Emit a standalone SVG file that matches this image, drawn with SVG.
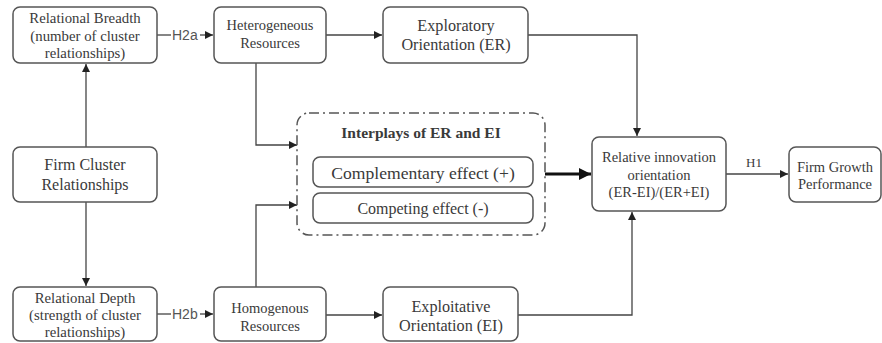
<svg xmlns="http://www.w3.org/2000/svg" width="882" height="343" viewBox="0 0 882 343">
<style>
.box{fill:#fff;stroke:#555;stroke-width:1.5}
.t{font-family:"Liberation Serif","Times New Roman",serif;fill:#3a3a3a;text-anchor:middle}
.s13{font-size:14.8px}.s14{font-size:14.5px}.s15{font-size:16.2px}.s16{font-size:16px}
.lbl{font-family:"Liberation Sans",sans-serif;font-size:14px;fill:#555}
.c{fill:none;stroke:#444;stroke-width:1.3}
</style>
<defs>
<marker id="a" viewBox="0 0 10 10" refX="10" refY="5" markerWidth="8" markerHeight="8" markerUnits="userSpaceOnUse" orient="auto"><path d="M0,0L10,5L0,10z" fill="#222"/></marker>
<marker id="b" viewBox="0 0 10 10" refX="10" refY="5" markerWidth="12" markerHeight="12" markerUnits="userSpaceOnUse" orient="auto"><path d="M0,0L10,5L0,10z" fill="#111"/></marker>
</defs>
<rect width="882" height="343" fill="#fff"/>
<g id="connectors">
<path class="c" d="M86,147V64" marker-end="url(#a)"/>
<path class="c" d="M86,202V286" marker-end="url(#a)"/>
<path class="c" d="M157,35H171"/><path class="c" d="M200,35H213" marker-end="url(#a)"/>
<text class="lbl" x="172" y="40">H2a</text>
<path class="c" d="M157,314H171"/><path class="c" d="M200,314H213" marker-end="url(#a)"/>
<text class="lbl" x="172" y="319">H2b</text>
<path class="c" d="M326,35H382" marker-end="url(#a)"/>
<path class="c" d="M326,315H382" marker-end="url(#a)"/>
<path class="c" d="M256,63V145H297" marker-end="url(#a)"/>
<path class="c" d="M256,287V205H297" marker-end="url(#a)"/>
<path class="c" d="M528,35H637V136" marker-end="url(#a)"/>
<path class="c" d="M518,315H632V212" marker-end="url(#a)"/>
<path fill="none" stroke="#111" stroke-width="3" d="M545,174H591" marker-end="url(#b)"/>
<path class="c" d="M726,174H788" marker-end="url(#a)"/>
<text class="t" font-size="13" x="754" y="167">H1</text>
</g>
<g id="breadth"><rect class="box" x="13" y="7" width="144" height="56" rx="7"/>
<text class="t s13"><tspan x="85" y="23">Relational Breadth</tspan><tspan x="85" y="41">(number of cluster</tspan><tspan x="85" y="58">relationships)</tspan></text></g>
<g id="heterogeneous"><rect class="box" x="214" y="7" width="112" height="56" rx="7"/>
<text class="t s14"><tspan x="270" y="30">Heterogeneous</tspan><tspan x="270" y="48">Resources</tspan></text></g>
<g id="exploratory"><rect class="box" x="383" y="7" width="145" height="56" rx="7"/>
<text class="t s15"><tspan x="456" y="31">Exploratory</tspan><tspan x="456" y="50">Orientation (ER)</tspan></text></g>
<g id="cluster"><rect class="box" x="13" y="147" width="144" height="55" rx="7"/>
<text class="t s16"><tspan x="85" y="170">Firm Cluster</tspan><tspan x="85" y="190">Relationships</tspan></text></g>
<g id="interplays"><rect x="297" y="113" width="248" height="122" rx="12" fill="none" stroke="#555" stroke-width="1.5" stroke-dasharray="10,4,2,4"/>
<text class="t" font-size="15.5" x="421" y="138" font-weight="bold">Interplays of ER and EI</text>
<rect class="box" x="313" y="157" width="220" height="30" rx="7"/>
<text class="t" font-size="17.6" x="423" y="179">Complementary effect (+)</text>
<rect class="box" x="313" y="193" width="220" height="30" rx="7"/>
<text class="t" font-size="16" x="423" y="214">Competing effect (-)</text></g>
<g id="relative"><rect class="box" x="592" y="137" width="134" height="74" rx="7"/>
<text class="t" font-size="14.5"><tspan x="659" y="162">Relative innovation</tspan><tspan x="659" y="180">orientation</tspan><tspan x="659" y="197">(ER-EI)/(ER+EI)</tspan></text></g>
<g id="growth"><rect class="box" x="789" y="147" width="92" height="55" rx="7"/>
<text class="t" font-size="14.5"><tspan x="835" y="172">Firm Growth</tspan><tspan x="835" y="189">Performance</tspan></text></g>
<g id="depth"><rect class="box" x="13" y="287" width="144" height="54" rx="7"/>
<text class="t s13"><tspan x="85" y="303">Relational Depth</tspan><tspan x="85" y="320">(strength of cluster</tspan><tspan x="85" y="337">relationships)</tspan></text></g>
<g id="homogenous"><rect class="box" x="214" y="287" width="112" height="54" rx="7"/>
<text class="t s14"><tspan x="270" y="313">Homogenous</tspan><tspan x="270" y="331">Resources</tspan></text></g>
<g id="exploitative"><rect class="box" x="383" y="287" width="135" height="54" rx="7"/>
<text class="t s15"><tspan x="451" y="312">Exploitative</tspan><tspan x="451" y="331">Orientation (EI)</tspan></text></g>
</svg>
